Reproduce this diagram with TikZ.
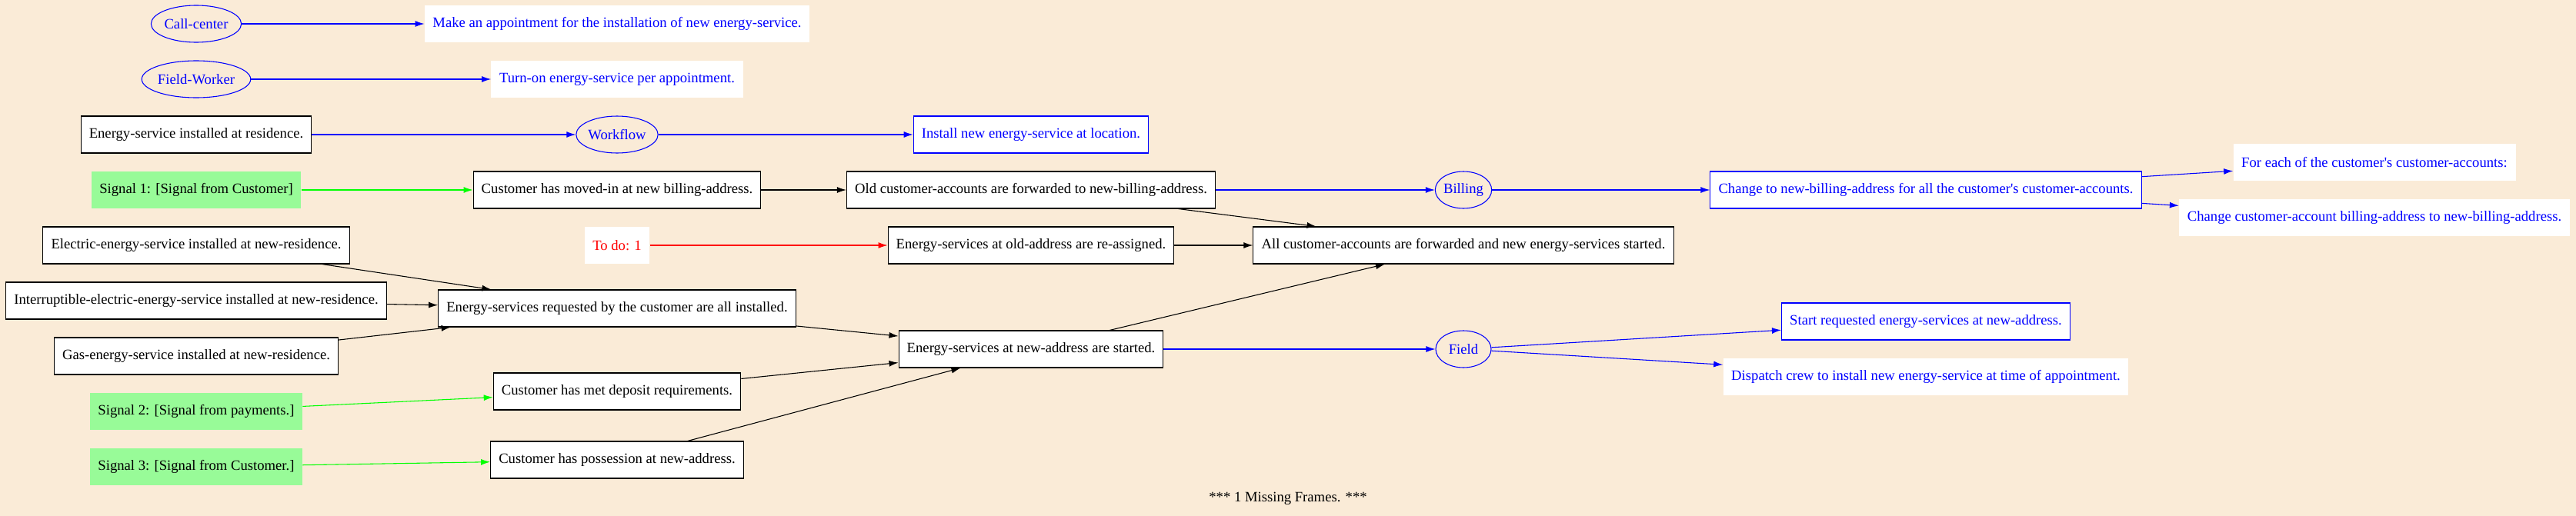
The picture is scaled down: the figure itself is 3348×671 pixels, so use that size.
\documentclass[tikz,border=0pt]{standalone}
\usepackage{fontspec}
\setmainfont{Liberation Serif}
\usetikzlibrary{positioning, arrows.meta, shapes.geometric}

\definecolor{bgbeige}{RGB}{250,235,215}
\definecolor{palegreen}{RGB}{152,251,152}
\definecolor{puregreen}{RGB}{0,255,0}

\begin{document}
\begin{tikzpicture}[x=0.75pt, y=-0.75pt,
    every node/.style={font=\fontsize{14pt}{16pt}\selectfont},
    box/.style={rectangle, draw=black, fill=white, line width=0.8pt, minimum height=36pt, inner xsep=8pt},
    bluebox/.style={box, draw=blue, text=blue},
    note/.style={rectangle, fill=white, minimum height=36pt, inner xsep=8pt, text=blue},
    signal/.style={rectangle, fill=palegreen, minimum height=36pt, inner xsep=8pt},
    role/.style={ellipse, draw=blue, text=blue, line width=0.8pt, minimum height=36pt, minimum width=54pt, inner xsep=0pt},
    flow/.style={-{Latex[length=9pt, width=6pt]}, line width=0.8pt}]

% background
\fill[bgbeige] (0,0) rectangle (3348,671);
\useasboundingbox (0,0) rectangle (3348,671);

% roles and their notes
\node[role] (callc) at (255,31) {Call-center};
\node[note] (appt) at (802,31) {Make an appointment for the installation of new energy-service.};
\node[role] (fworker) at (255,103) {Field-Worker};
\node[note] (turnon) at (802,103) {Turn-on energy-service per appointment.};

% workflow row
\node[box] (esinst) at (255,175) {Energy-service installed at residence.};
\node[role] (workflow) at (802,175) {Workflow};
\node[bluebox] (install) at (1340,175) {Install new energy-service at location.};

% billing row
\node[signal] (sig1) at (255,247) {Signal 1: [Signal from Customer]};
\node[box] (movedin) at (802,247) {Customer has moved-in at new billing-address.};
\node[box] (oldacc) at (1340,247) {Old customer-accounts are forwarded to new-billing-address.};
\node[role] (billing) at (1902,247) {Billing};
\node[bluebox] (chbill) at (2503,247) {Change to new-billing-address for all the customer\textquotesingle s customer-accounts.};
\node[note] (foreach) at (3086,211) {For each of the customer\textquotesingle s customer-accounts:};
\node[note] (chacc) at (3086,283) {Change customer-account billing-address to new-billing-address.};

% old address
\node[box] (elec) at (255,319) {Electric-energy-service installed at new-residence.};
\node[note, text=red] (todo) at (802,319) {To do: 1};
\node[box] (reassign) at (1340,319) {Energy-services at old-address are re-assigned.};
\node[box] (allacc) at (1902,319) {All customer-accounts are forwarded and new energy-services started.};

% new address
\node[box] (intr) at (255,391) {Interruptible-electric-energy-service installed at new-residence.};
\node[box] (req) at (802,401) {Energy-services requested by the customer are all installed.};
\node[box] (gas) at (255,463) {Gas-energy-service installed at new-residence.};
\node[box] (started) at (1340,454) {Energy-services at new-address are started.};
\node[role] (field) at (1902,454) {Field};
\node[bluebox] (startreq) at (2503,418) {Start requested energy-services at new-address.};
\node[note] (dispatch) at (2503,490) {Dispatch crew to install new energy-service at time of appointment.};
\node[box] (deposit) at (802,509) {Customer has met deposit requirements.};
\node[signal] (sig2) at (255,535) {Signal 2: [Signal from payments.]};
\node[signal] (sig3) at (255,607) {Signal 3: [Signal from Customer.]};
\node[box] (poss) at (802,598) {Customer has possession at new-address.};

% label
\node (missing) at (1674,648) {*** 1 Missing Frames. ***};

% blue edges
\draw[flow, blue] (callc) -- (appt);
\draw[flow, blue] (fworker) -- (turnon);
\draw[flow, blue] (esinst) -- (workflow);
\draw[flow, blue] (workflow) -- (install);
\draw[flow, blue] (oldacc) -- (billing);
\draw[flow, blue] (billing) -- (chbill);
\draw[flow, blue] (chbill) -- (foreach);
\draw[flow, blue] (chbill) -- (chacc);
\draw[flow, blue] (started) -- (field);
\draw[flow, blue] (field) -- (startreq);
\draw[flow, blue] (field) -- (dispatch);

% signals
\draw[flow, puregreen] (sig1) -- (movedin);
\draw[flow, puregreen] (sig2) -- (deposit);
\draw[flow, puregreen] (sig3) -- (poss);
\draw[flow, red] (todo) -- (reassign);

% black edges
\draw[flow] (movedin) -- (oldacc);
\draw[flow] (oldacc) -- (allacc);
\draw[flow] (reassign) -- (allacc);
\draw[flow] (elec) -- (req);
\draw[flow] (intr) -- (req);
\draw[flow] (gas) -- (req);
\draw[flow] (req) -- (started);
\draw[flow] (deposit) -- (started);
\draw[flow] (poss) -- (started);
\draw[flow] (started) -- (allacc);

\end{tikzpicture}
\end{document}
